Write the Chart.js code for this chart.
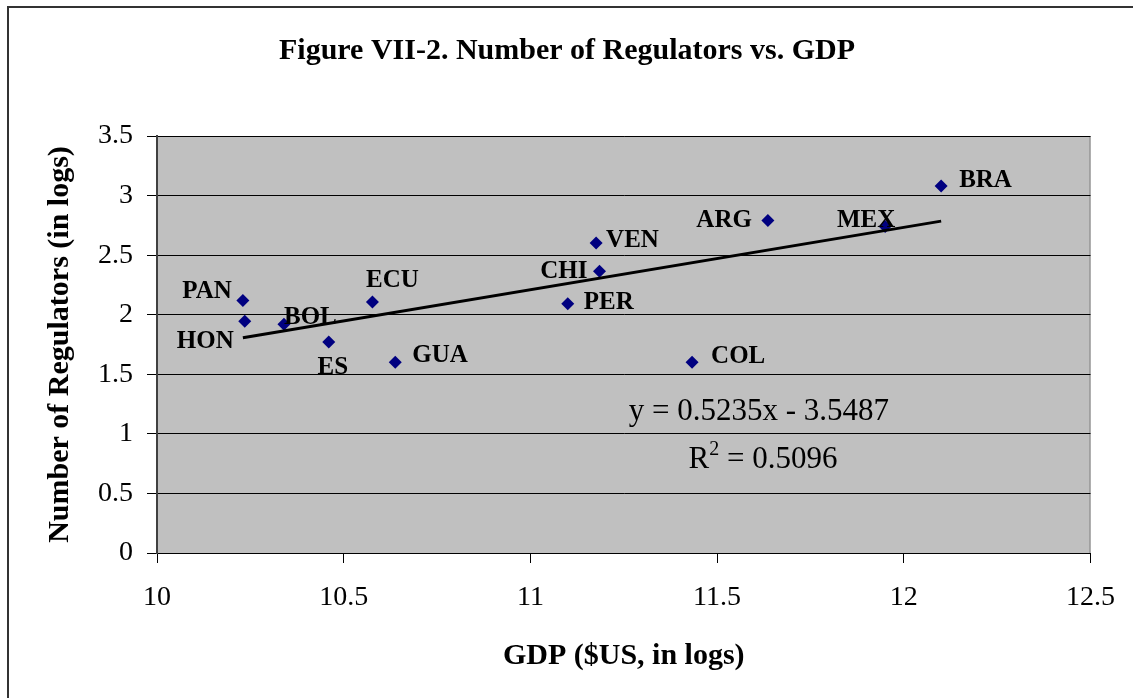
<!DOCTYPE html>
<html>
<head>
<meta charset="utf-8">
<script src="https://cdn.jsdelivr.net/npm/chart.js@4/dist/chart.umd.min.js"></script>
<style>
  html, body { margin: 0; padding: 0; background: #fff; }
  canvas { display: block; }
</style>
</head>
<body>
<canvas id="chart" width="1133" height="698"></canvas>
<script>
// country codes and their values (log GDP, log number of regulators)
const countries = ['PAN', 'HON', 'BOL', 'ES', 'ECU', 'GUA', 'VEN', 'CHI', 'PER', 'COL', 'ARG', 'MEX', 'BRA'];
const gdpLog = [10.23, 10.235, 10.34, 10.46, 10.577, 10.638, 11.176, 11.185, 11.10, 11.433, 11.636, 11.95, 12.10];
const regulatorsLog = [2.12, 1.945, 1.92, 1.77, 2.107, 1.60, 2.601, 2.364, 2.093, 1.60, 2.79, 2.74, 3.08];

// Excel trendline as printed on the chart
const slope = 0.5235;
const intercept = -3.5487;
const rSquared = 0.5096;

const xTicks = [10, 10.5, 11, 11.5, 12, 12.5];
const yTicks = [0, 0.5, 1, 1.5, 2, 2.5, 3, 3.5];

const chartTitle = 'Figure VII-2. Number of Regulators vs. GDP';

// where each country label sits next to its marker: [dx, dy, align]
const labelPlacement = {
  PAN: [-11, -10, 'right'],
  HON: [-11, 19, 'right'],
  BOL: [0, -8, 'left'],
  ES: [4, 24, 'center'],
  ECU: [20, -23, 'center'],
  GUA: [17, -8, 'left'],
  VEN: [10, -4, 'left'],
  CHI: [-12, -1, 'right'],
  PER: [16, -3, 'left'],
  COL: [19, -7, 'left'],
  ARG: [-16, -2, 'right'],
  MEX: [-19, -8, 'center'],
  BRA: [18, -7, 'left']
};

const serif = '"Liberation Serif", "Times New Roman", serif';

const points = gdpLog.map((x, i) => ({ x: x, y: regulatorsLog[i] }));
const xMin = Math.min(...gdpLog);
const xMax = Math.max(...gdpLog);
const trend = [xMin, xMax].map((x) => ({ x: x, y: slope * x + intercept }));

const plotBackground = {
  id: 'plotBackground',
  beforeDraw(chart) {
    const { ctx, chartArea: a } = chart;
    ctx.save();
    ctx.fillStyle = '#c0c0c0';
    ctx.fillRect(a.left, a.top, a.right - a.left, a.bottom - a.top);
    ctx.strokeStyle = '#808080';
    ctx.lineWidth = 1;
    ctx.strokeRect(a.left + 0.5, a.top + 0.5, a.right - a.left - 1, a.bottom - a.top);
    // outer frame of the chart object
    ctx.strokeStyle = '#333';
    ctx.lineWidth = 2;
    ctx.beginPath();
    ctx.moveTo(8, chart.height);
    ctx.lineTo(8, 7);
    ctx.lineTo(chart.width, 7);
    ctx.stroke();
    // chart title, centred on the whole canvas
    ctx.fillStyle = '#000';
    ctx.font = 'bold 30px ' + serif;
    ctx.textAlign = 'center';
    ctx.textBaseline = 'alphabetic';
    ctx.fillText(chartTitle, 567, 59);
    ctx.restore();
  }
};

const annotations = {
  id: 'annotations',
  afterDatasetsDraw(chart) {
    const { ctx } = chart;
    const xs = chart.scales.x;
    const ys = chart.scales.y;
    ctx.save();
    ctx.fillStyle = '#000';
    ctx.font = 'bold 25px ' + serif;
    ctx.textBaseline = 'alphabetic';
    countries.forEach((name, i) => {
      const p = labelPlacement[name];
      ctx.textAlign = p[2];
      ctx.fillText(name, xs.getPixelForValue(gdpLog[i]) + p[0], ys.getPixelForValue(regulatorsLog[i]) + p[1] + 8);
    });

    // regression equation and R squared
    const cx = xs.getPixelForValue(11.612);
    const by = ys.getPixelForValue(1.12);
    ctx.font = '31px ' + serif;
    ctx.textAlign = 'center';
    ctx.fillText('y = ' + slope + 'x - ' + Math.abs(intercept), cx, by);

    const head = 'R';
    const tail = ' = ' + rSquared;
    const wHead = ctx.measureText(head).width;
    const wTail = ctx.measureText(tail).width;
    ctx.font = '20px ' + serif;
    const wSup = ctx.measureText('2').width;
    let x0 = cx + 4 - (wHead + wSup + wTail) / 2;
    const by2 = by + 48;
    ctx.textAlign = 'left';
    ctx.font = '31px ' + serif;
    ctx.fillText(head, x0, by2);
    ctx.font = '20px ' + serif;
    ctx.fillText('2', x0 + wHead, by2 - 13);
    ctx.font = '31px ' + serif;
    ctx.fillText(tail, x0 + wHead + wSup, by2);
    ctx.restore();
  }
};

new Chart(document.getElementById('chart'), {
  type: 'scatter',
  data: {
    datasets: [
      {
        label: 'Trend',
        type: 'line',
        data: trend,
        borderColor: '#000',
        borderWidth: 3,
        pointRadius: 0,
        fill: false,
        order: 0
      },
      {
        label: 'Countries',
        data: points,
        pointStyle: 'rectRot',
        pointRadius: 6.5,
        pointHoverRadius: 6.5,
        backgroundColor: '#000080',
        borderColor: '#000080',
        borderWidth: 0,
        order: 1
      }
    ]
  },
  options: {
    responsive: false,
    animation: false,
    devicePixelRatio: 1,
    layout: { padding: { left: 0, right: 41, top: 136, bottom: 0 } },
    scales: {
      x: {
        type: 'linear',
        min: xTicks[0],
        max: xTicks[xTicks.length - 1],
        afterBuildTicks(scale) {
          scale.ticks = xTicks.map((v) => ({ value: v }));
        },
        afterFit(scale) {
          scale.height = 145;
        },
        ticks: {
          color: '#000',
          font: { family: serif, size: 28 },
          padding: 18,
          maxRotation: 0,
          callback: (v) => String(v)
        },
        grid: {
          drawOnChartArea: false,
          drawTicks: true,
          tickLength: 10,
          tickColor: '#000'
        },
        border: { color: '#000', width: 1 },
        title: {
          display: true,
          text: 'GDP ($US, in logs)',
          color: '#000',
          font: { family: serif, size: 30, weight: 'bold' },
          padding: { top: 0, bottom: 24 }
        }
      },
      y: {
        type: 'linear',
        min: yTicks[0],
        max: yTicks[yTicks.length - 1],
        afterBuildTicks(scale) {
          scale.ticks = yTicks.map((v) => ({ value: v }));
        },
        afterFit(scale) {
          scale.width = 157;
        },
        ticks: {
          color: '#000',
          font: { family: serif, size: 28 },
          padding: 14,
          callback: (v) => String(v)
        },
        grid: {
          color: '#000',
          lineWidth: 1,
          tickLength: 10,
          tickColor: '#000'
        },
        border: { color: '#404040', width: 2 },
        title: {
          display: true,
          text: 'Number of Regulators (in logs)',
          color: '#000',
          font: { family: serif, size: 30, weight: 'bold' },
          padding: { top: 42, bottom: 0 }
        }
      }
    },
    plugins: {
      legend: { display: false },
      tooltip: { enabled: false },
      title: { display: false }
    }
  },
  plugins: [plotBackground, annotations]
});
</script>
</body>
</html>
